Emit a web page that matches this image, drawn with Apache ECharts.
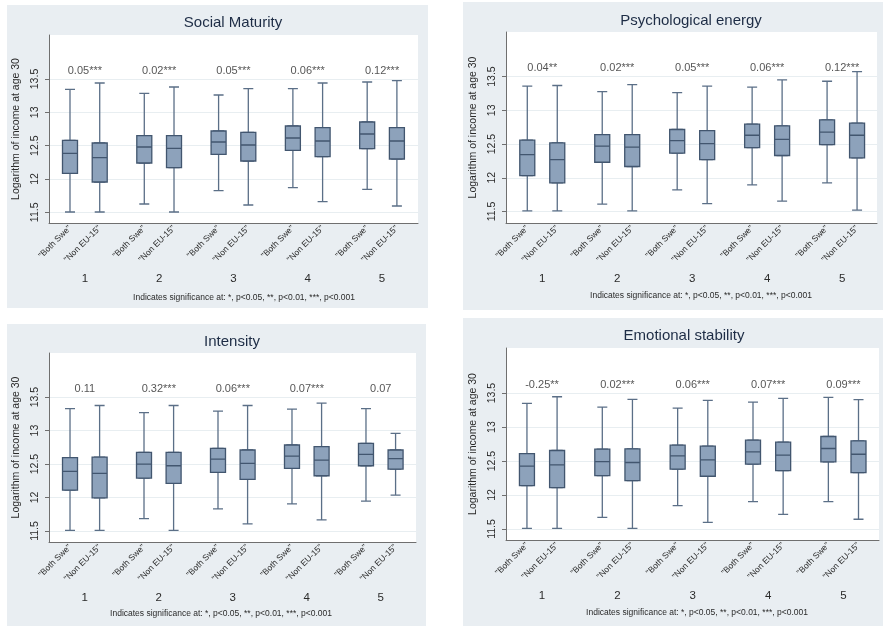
<!DOCTYPE html>
<html>
<head>
<meta charset="utf-8">
<script src="https://cdn.jsdelivr.net/npm/echarts@6/dist/echarts.min.js"></script>
<style>
html,body{margin:0;padding:0;background:#fff;width:883px;height:626px;overflow:hidden;}
.panel{position:absolute;background:#e9eef2;}
</style>
</head>
<body>
<div id="p1" class="panel" style="left:7px;top:5px;width:421px;height:303px;"></div>
<div id="p2" class="panel" style="left:463px;top:2px;width:420px;height:308px;"></div>
<div id="p3" class="panel" style="left:7px;top:324px;width:419px;height:302px;"></div>
<div id="p4" class="panel" style="left:463px;top:318px;width:420px;height:308px;"></div>
<script>
// ---------- data ----------
const groups = ["1", "2", "3", "4", "5"];
const subGroups = ['"Both Swe"', '"Non EU-15"'];
const yTicks = [11.5, 12, 12.5, 13, 13.5];
const yAxisTitle = "Logarithm of income at age 30";
const noteText = "Indicates significance at: *, p<0.05, **, p<0.01, ***, p<0.001";

// each entry: [min, Q1, median, Q3, max]
const socialBoth = [[11.505,12.085,12.385,12.58,13.345],[11.625,12.24,12.48,12.65,13.285],[11.825,12.37,12.555,12.72,13.26],[11.87,12.43,12.615,12.795,13.355],[11.845,12.455,12.675,12.855,13.455]];
const socialNon  = [[11.505,11.955,12.32,12.54,13.44],[11.505,12.17,12.46,12.65,13.38],[11.61,12.27,12.51,12.70,13.355],[11.66,12.335,12.57,12.77,13.44],[11.595,12.30,12.57,12.77,13.475]];
const socialSig  = ["0.05***","0.02***","0.05***","0.06***","0.12***"];

const energyBoth = [[11.51,12.033,12.344,12.557,13.357],[11.61,12.23,12.468,12.64,13.278],[11.82,12.364,12.552,12.715,13.263],[11.895,12.448,12.63,12.794,13.342],[11.925,12.49,12.675,12.858,13.43]];
const energyNon  = [[11.51,11.925,12.27,12.517,13.367],[11.51,12.167,12.453,12.64,13.38],[11.618,12.27,12.507,12.70,13.357],[11.653,12.33,12.57,12.77,13.45],[11.52,12.295,12.63,12.81,13.574]];
const energySig  = ["0.04**","0.02***","0.05***","0.06***","0.12***"];

const intensityBoth = [[11.51,12.11,12.39,12.595,13.33],[11.685,12.29,12.5,12.675,13.27],[11.83,12.375,12.575,12.735,13.29],[11.905,12.435,12.62,12.785,13.32],[11.945,12.475,12.645,12.81,13.33]];
const intensityNon  = [[11.51,11.995,12.36,12.605,13.375],[11.51,12.21,12.475,12.675,13.375],[11.605,12.27,12.51,12.71,13.375],[11.665,12.325,12.56,12.76,13.41],[12.035,12.425,12.58,12.71,12.96]];
const intensitySig  = ["0.11","0.32***","0.06***","0.07***","0.07"];

const emotionBoth = [[11.51,12.139,12.424,12.61,13.348],[11.672,12.286,12.49,12.674,13.294],[11.844,12.38,12.576,12.733,13.279],[11.903,12.453,12.635,12.807,13.367],[11.903,12.488,12.684,12.861,13.436]];
const emotionNon  = [[11.51,12.109,12.443,12.655,13.446],[11.51,12.213,12.478,12.68,13.407],[11.598,12.276,12.517,12.719,13.392],[11.716,12.36,12.586,12.778,13.421],[11.643,12.33,12.60,12.797,13.402]];
const emotionSig  = ["-0.25**","0.02***","0.06***","0.07***","0.09***"];

const titles = ["Social Maturity", "Psychological energy", "Intensity", "Emotional stability"];

// ---------- layout / style ----------
const FONT = "'Liberation Sans', Arial, sans-serif";
const SLOT_GROUP = 5, SLOT_SUB = 2; // slot spacing of the over() groups
const SIG_Y = 13.62;
const panels = [
  {id:"p1", title:titles[0], both:socialBoth, non:socialNon, sig:socialSig,
   grid:{left:42,top:30,width:369,height:188}, xr:[-1.413,23.42], yr:[11.34,14.16],
   titleX:226, titleY:18, noteX:237, noteY:293},
  {id:"p2", title:titles[1], both:energyBoth, non:energyNon, sig:energySig,
   grid:{left:43,top:30,width:371,height:191}, xr:[-1.42,23.33], yr:[11.33,14.16],
   titleX:228, titleY:19, noteX:238, noteY:294},
  {id:"p3", title:titles[2], both:intensityBoth, non:intensityNon, sig:intensitySig,
   grid:{left:42,top:29,width:367,height:189}, xr:[-1.42,23.38], yr:[11.335,14.16],
   titleX:225, titleY:18, noteX:214, noteY:290},
  {id:"p4", title:titles[3], both:emotionBoth, non:emotionNon, sig:emotionSig,
   grid:{left:43,top:30,width:373,height:192}, xr:[-1.39,23.36], yr:[11.338,14.163],
   titleX:221, titleY:18, noteX:234, noteY:295}
];

function pos(g, s){ return g*SLOT_GROUP + s*SLOT_SUB; }

panels.forEach(function(p){
  const chart = echarts.init(document.getElementById(p.id), null, {renderer:'canvas'});
  const whisk = [], boxes = [], subPos = [], subLab = {}, grpPos = [], grpLab = {}, sigPts = [];
  groups.forEach(function(g, gi){
    [p.both, p.non].forEach(function(arr, si){
      const v = arr[gi];
      const x = pos(gi, si);
      whisk.push([x].concat(v));
      boxes.push([x, v[1], v[1], v[2], v[3], v[3]]);
      subPos.push(x); subLab[x] = subGroups[si];
    });
    const c = (pos(gi,0) + pos(gi,1)) / 2;
    grpPos.push(c); grpLab[c] = g;
    sigPts.push([c, SIG_Y]);
  });
  const axisCol = '#6f6f6f';
  const option = {
    animation:false,
    backgroundColor:'transparent',
    textStyle:{fontFamily:FONT},
    title:[
      {text:p.title, left:p.titleX, top:p.titleY, padding:0, textAlign:'center', textVerticalAlign:'middle',
       textStyle:{fontFamily:FONT, fontSize:15, fontWeight:'normal', color:'#1d2c45'}},
      {text:noteText, left:p.noteX, top:p.noteY, padding:0, textAlign:'center', textVerticalAlign:'middle',
       textStyle:{fontFamily:FONT, fontSize:8.5, fontWeight:'normal', color:'#2a2a2a'}}
    ],
    grid:{left:p.grid.left, top:p.grid.top, width:p.grid.width, height:p.grid.height,
          show:true, backgroundColor:'#ffffff', borderWidth:0, containLabel:false, outerBoundsMode:'none'},
    xAxis:[
      {type:'value', position:'bottom', min:p.xr[0], max:p.xr[1], gridIndex:0,
       axisLine:{show:true, onZero:false, lineStyle:{color:axisCol, width:1}},
       axisTick:{show:false}, splitLine:{show:false},
       axisLabel:{show:true, customValues:subPos, rotate:45, margin:4, fontSize:8.5, color:'#2a2a2a',
                  fontFamily:FONT, formatter:function(v){ return subLab[v] || ''; }}},
      {type:'value', position:'bottom', offset:0, min:p.xr[0], max:p.xr[1], gridIndex:0,
       axisLine:{show:false, onZero:false}, axisTick:{show:false}, splitLine:{show:false},
       axisLabel:{show:true, customValues:grpPos, margin:50, fontSize:11.5, color:'#2a2a2a',
                  fontFamily:FONT, formatter:function(v){ return grpLab[v] || ''; }}}
    ],
    yAxis:[{type:'value', min:p.yr[0], max:p.yr[1],
       name:yAxisTitle, nameLocation:'middle', nameGap:27, nameRotate:90,
       nameTextStyle:{fontFamily:FONT, fontSize:10.5, color:'#2a2a2a'},
       axisLine:{show:true, onZero:false, lineStyle:{color:axisCol, width:1}},
       axisTick:{show:true, customValues:yTicks, length:4, lineStyle:{color:axisCol}},
       axisLabel:{show:true, customValues:yTicks, rotate:90, margin:8, fontSize:10.5, color:'#2a2a2a', fontFamily:FONT,
                  formatter:function(v){ return String(v); }},
       splitLine:{show:true, lineStyle:{color:'#e8eef1', width:1}}}],
    series:[
      {type:'boxplot', xAxisIndex:0, yAxisIndex:0, silent:true, boxWidth:[10,10],
       itemStyle:{color:'#8da2bb', borderColor:'#5b6f87', borderWidth:1.3},
       data:whisk},
      {type:'boxplot', xAxisIndex:1, yAxisIndex:0, silent:true, boxWidth:[15,15],
       itemStyle:{color:'#8da2bb', borderColor:'#42566f', borderWidth:1.3},
       data:boxes},
      {type:'scatter', xAxisIndex:0, yAxisIndex:0, silent:true, symbolSize:1,
       itemStyle:{color:'transparent'},
       label:{show:true, position:'inside', fontSize:11, color:'#2a2a2a', fontFamily:FONT,
              formatter:function(prm){ return p.sig[prm.dataIndex]; }},
       data:sigPts}
    ]
  };
  chart.setOption(option);
});
</script>
</body>
</html>
